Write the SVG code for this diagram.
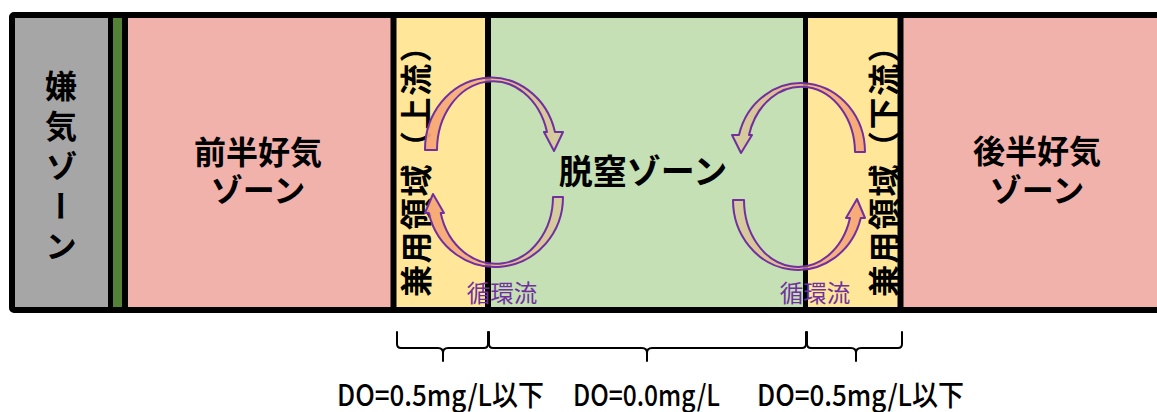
<svg xmlns="http://www.w3.org/2000/svg" width="1157" height="412" viewBox="0 0 1157 412">
<style>
.lbl{font-family:"Noto Sans CJK JP","Noto Sans",sans-serif;font-weight:bold;fill:#000;font-size:32px}
.circ{font-family:"Noto Sans CJK JP","Noto Sans",sans-serif;fill:#7030A0;font-size:23.5px}
.do{font-family:"Noto Sans CJK JP","Noto Sans",sans-serif;font-weight:500;fill:#000;font-size:29px}
.div{stroke:#000;fill:none}
.brace{stroke:#000;stroke-width:2;fill:none;stroke-linecap:round;stroke-linejoin:round}
.arr{stroke:#7030A0;stroke-width:2;stroke-linejoin:round}
</style>
<defs>
<linearGradient id="gL" gradientUnits="userSpaceOnUse" x1="425" y1="0" x2="565" y2="0">
<stop offset="0" stop-color="#F7A672" stop-opacity="0.95"/>
<stop offset="0.5" stop-color="#F4A882" stop-opacity="0.75"/>
<stop offset="1" stop-color="#F0A878" stop-opacity="0.3"/>
</linearGradient>
<linearGradient id="gR" gradientUnits="userSpaceOnUse" x1="868" y1="0" x2="730" y2="0">
<stop offset="0" stop-color="#F7A672" stop-opacity="0.95"/>
<stop offset="0.5" stop-color="#F4A882" stop-opacity="0.75"/>
<stop offset="1" stop-color="#F0A878" stop-opacity="0.3"/>
</linearGradient>
</defs>

<g id="zone-anaerobic">
<rect x="12" y="15" width="97" height="295" fill="#A6A6A6"/>
<text class="lbl" x="61" y="70" style="writing-mode:vertical-rl;letter-spacing:8px">嫌気ゾーン</text>
</g>
<g id="strip-green">
<rect x="109" y="15" width="15" height="295" fill="#538135"/>
</g>
<g id="zone-aerobic-front">
<rect x="124" y="15" width="269" height="295" fill="#F2B2AC"/>
<text class="lbl" text-anchor="middle"><tspan x="258" y="164">前半好気</tspan><tspan x="258" y="202">ゾーン</tspan></text>
</g>
<g id="zone-shared-upstream">
<rect x="393" y="15" width="95" height="295" fill="#FFE699"/>
<text class="lbl" transform="translate(414,163) rotate(-90)" text-anchor="middle" dominant-baseline="central" style="letter-spacing:1.5px">兼用領域（上流）</text>
</g>
<g id="zone-denitrification">
<rect x="488" y="15" width="318" height="295" fill="#C5E0B4"/>
<text class="lbl" x="643" y="184" text-anchor="middle" style="font-size:34px">脱窒ゾーン</text>
</g>
<g id="zone-shared-downstream">
<rect x="806" y="15" width="95" height="295" fill="#FFE699"/>
<text class="lbl" transform="translate(882,163) rotate(-90)" text-anchor="middle" dominant-baseline="central" style="letter-spacing:1.5px">兼用領域（下流）</text>
</g>
<g id="zone-aerobic-rear">
<rect x="901" y="15" width="270" height="295" fill="#F2B2AC"/>
<text class="lbl" text-anchor="middle"><tspan x="1037" y="163">後半好気</tspan><tspan x="1037" y="202">ゾーン</tspan></text>
</g>

<g id="frame">
<rect class="div" x="12" y="15" width="1160" height="295" rx="2" stroke-width="6"/>
<line class="div" x1="110.5" y1="15" x2="110.5" y2="310" stroke-width="5"/>
<line class="div" x1="125" y1="15" x2="125" y2="310" stroke-width="6"/>
<line class="div" x1="393.5" y1="15" x2="393.5" y2="310" stroke-width="6"/>
<line class="div" x1="488" y1="15" x2="488" y2="310" stroke-width="6"/>
<line class="div" x1="805.5" y1="15" x2="805.5" y2="310" stroke-width="5"/>
<line class="div" x1="900.5" y1="15" x2="900.5" y2="310" stroke-width="6"/>
</g>

<g id="connectors">
<path class="arr" fill="url(#gL)" d="M425,150 A66,72 0 0 1 555,132 L563,132 L554,151 L544,132 L547,132 A56,69 0 0 0 437,150 Z"/>
<path class="arr" fill="url(#gL)" d="M563,197 A68,70 0 0 1 428.8,213 L425,213 L433,194 L444,213 L440.7,213 A57,67 0 0 0 553,197 Z"/>
<path class="arr" fill="url(#gR)" d="M865,152 A64,69 0 0 0 739,135 L732,135 L741,153 L752,135 L749,135 A54,66 0 0 1 855,152 Z"/>
<path class="arr" fill="url(#gR)" d="M733,200 A65,70 0 0 0 860.8,218 L865,218 L857,199 L846,218 L850,218 A54,67 0 0 1 744,200 Z"/>
<text class="circ" x="502" y="302" text-anchor="middle">循環流</text>
<text class="circ" x="815" y="302" text-anchor="middle">循環流</text>
</g>

<g id="braces">
<path class="brace" d="M397,332 L397,344 Q397,348 401,348 L438,348 Q443,348 443,353 L443,361 M443,353 Q443,348 448,348 L484,348 Q488,348 488,344 L488,332"/>
<path class="brace" d="M489,332 L489,344 Q489,348 493,348 L642,348 Q647,348 647,353 L647,361 M647,353 Q647,348 652,348 L802,348 Q806,348 806,344 L806,332"/>
<path class="brace" d="M807,332 L807,344 Q807,348 811,348 L851,348 Q856,348 856,353 L856,361 M856,353 Q856,348 861,348 L898,348 Q902,348 902,344 L902,332"/>
</g>

<g id="do-labels">
<text class="do" x="337" y="406" textLength="207" lengthAdjust="spacingAndGlyphs">DO=0.5mg/L以下</text>
<text class="do" x="573" y="406" textLength="147" lengthAdjust="spacingAndGlyphs">DO=0.0mg/L</text>
<text class="do" x="757" y="406" textLength="207" lengthAdjust="spacingAndGlyphs">DO=0.5mg/L以下</text>
</g>
</svg>
